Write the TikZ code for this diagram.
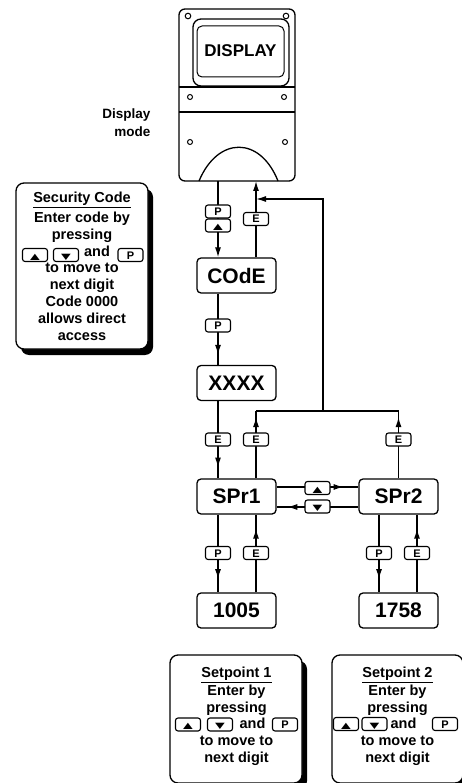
\documentclass[tikz,border=0pt]{standalone}
\usepackage{fontspec}
\setmainfont{Liberation Sans}
\newfontfamily\symfont{DejaVu Sans}
\usetikzlibrary{arrows.meta,decorations.markings,shadows}

\newcommand{\boxfont}{\fontsize{21}{24}\selectfont\bfseries}
\newcommand{\dispfont}{\fontsize{17}{20}\selectfont\bfseries}
\newcommand{\modefont}{\fontsize{13.5}{18}\selectfont\bfseries}
\newcommand{\infofont}{\fontsize{14.5}{16.8}\selectfont\bfseries}
\newcommand{\btnfont}{\fontsize{11}{12}\selectfont\bfseries}
\newcommand{\uptri}{{\symfont\scalebox{1.15}[0.75]{▲}}}
\newcommand{\dntri}{{\symfont\scalebox{1.15}[0.75]{▼}}}

\tikzset{
  flow/.style={line width=1.3pt},
  tipend/.style={-{Latex[length=10pt,width=6pt]}},
  arrowat/.style={postaction={decorate},
    decoration={markings, mark=at position #1 with {\arrow{Latex[length=10pt,width=6pt]}}}},
  screen/.style={draw, line width=1.3pt, rounded corners=4pt, fill=white,
    minimum width=79pt, minimum height=35pt, inner sep=0pt, font=\boxfont},
  btn/.style={draw, line width=1.1pt, rounded corners=2.5pt, fill=white,
    minimum width=25pt, minimum height=13pt, inner sep=0pt,
    text height=8pt, text depth=0pt, font=\btnfont},
  infobox/.style={draw, line width=1.3pt, rounded corners=8pt, fill=white,
    drop shadow={shadow xshift=5pt, shadow yshift=-6pt, fill=black, opacity=1}},
  infotext/.style={align=center, font=\infofont, inner sep=0pt}
}

\begin{document}
\begin{tikzpicture}[
  x=1pt, y=-1pt
]
\useasboundingbox (0,0) rectangle (462,783);

% display unit
\draw [line width=1.3pt, rounded corners=6pt] (179,9) rectangle (295,181);
\draw [line width=1.3pt, rounded corners=8pt] (193,19) rectangle (289,86);
\draw [line width=1pt, rounded corners=5pt] (197,26) rectangle (284,77);
\draw [line width=1.2pt] (179,87) -- (295,87);
\draw [line width=1.2pt] (179,112) -- (295,112);
\draw [line width=1.3pt] (199,181) .. controls (218,136) and (260,136) .. (278,181);
\draw [line width=1pt] (188,16) circle [radius=2.8];
\draw [line width=1pt] (286,16) circle [radius=2.8];
\draw [line width=1pt] (190,97) circle [radius=2.5];
\draw [line width=1pt] (284,97) circle [radius=2.5];
\draw [line width=1pt] (190,142) circle [radius=2.5];
\draw [line width=1pt] (285,142) circle [radius=2.5];
\node [font=\dispfont] (disptext) at (240.5,51) {DISPLAY};
\node [anchor=east, align=right, font=\modefont] (modetext) at (154,123) {Display\\mode};

% menu screens
\node [screen] (code) at (236.5,275.5) {COdE};
\node [screen] (xxxx) at (236.5,383) {XXXX};
\node [screen] (spr1) at (236.5,496.5) {SPr1};
\node [screen] (spr2) at (398.5,496.5) {SPr2};
\node [screen] (sp1val) at (236.5,610.5) {1005};
\node [screen] (sp2val) at (398.5,610.5) {1758};

\coordinate (dispL) at (218,181);
\coordinate (dispR) at (256,181);
\coordinate (tap) at (256,199);
\coordinate (bus) at (323,411);

% connectors
\draw [flow, tipend] (dispL) -- (dispL |- code.north);
\draw [flow, tipend] (code.north -| dispR) -- (dispR);
\draw [flow, tipend] (bus) |- (tap);
\draw [flow, arrowat=0.86] ([xshift=-18.5pt]code.south) -- ([xshift=-18.5pt]xxxx.north);
\draw [flow, arrowat=0.86] ([xshift=-18.5pt]xxxx.south) -- ([xshift=-18.5pt]spr1.north);
\draw [flow, arrowat=0.91] ([xshift=19.5pt]spr1.north) -- ([xshift=19.5pt]spr1.north |- bus);
\draw [flow, arrowat=0.91] (spr2.north) -- (spr2.north |- bus);
\draw [flow] ([xshift=19.5pt]spr1.north |- bus) -- (spr2.north |- bus);
\draw [flow, arrowat=0.82] ([yshift=9.5pt]spr1.east) -- ([yshift=9.5pt]spr2.west);
\draw [flow, arrowat=0.87] ([yshift=-10.5pt]spr2.west) -- ([yshift=-10.5pt]spr1.east);
\draw [flow, arrowat=0.83] ([xshift=-18.5pt]spr1.south) -- ([xshift=-18.5pt]sp1val.north);
\draw [flow, arrowat=0.82] ([xshift=19.5pt]sp1val.north) -- ([xshift=19.5pt]spr1.south);
\draw [flow, arrowat=0.83] ([xshift=-19.5pt]spr2.south) -- ([xshift=-19.5pt]sp2val.north);
\draw [flow, arrowat=0.82] ([xshift=18.5pt]sp2val.north) -- ([xshift=18.5pt]spr2.south);

% keys on the connectors
\node [btn] (kp1) at (218,211.5) {P};
\node [btn] (ku1) at (218,225.5) {\uptri};
\node [btn] (ke1) at (256,219) {E};
\node [btn] (kp2) at (218,325.5) {P};
\node [btn] (ke2) at (218,439.5) {E};
\node [btn] (ke3) at (256,439.5) {E};
\node [btn] (ke4) at (398.5,439.5) {E};
\node [btn] (kup) at (317.5,488) {\uptri};
\node [btn] (kdn) at (317.5,506.5) {\dntri};
\node [btn] (kp3) at (218,553) {P};
\node [btn] (ke5) at (256,553) {E};
\node [btn] (kp4) at (379,553) {P};
\node [btn] (ke6) at (417,553) {E};

% security code note
\node [infobox, minimum width=132pt, minimum height=166pt] (secbox) at (82,266) {};
\node [infotext] (sectext) at (82,266.3) {\underline{Security Code}\\[3pt]
  Enter code by\\ pressing\\ \makebox[63pt]{}and\makebox[33pt]{}\\ to move to\\
  next digit\\ Code 0000\\ allows direct\\ access};
\node [btn] (secup) at (35,255) {\uptri};
\node [btn] (secdn) at (66,255) {\dntri};
\node [btn] (secp) at (130.5,255) {P};

% setpoint notes
\node [infobox, minimum width=132pt, minimum height=128pt] (sp1box) at (236,719) {};
\node [infotext] (sp1text) at (236.5,716.3) {\underline{Setpoint 1}\\[1pt]
  Enter by\\ pressing\\ \makebox[64pt]{}and\makebox[32pt]{}\\ to move to\\ next digit};
\node [btn] (sp1up) at (188,724.5) {\uptri};
\node [btn] (sp1dn) at (220,724.5) {\dntri};
\node [btn] (sp1p) at (285,724.5) {P};

\node [infobox, minimum width=131pt, minimum height=128pt] (sp2box) at (397.5,719) {};
\node [infotext] (sp2text) at (397.5,716.3) {\underline{Setpoint 2}\\[1pt]
  Enter by\\ pressing\\ \makebox[54pt]{}and\makebox[42pt]{}\\ to move to\\ next digit};
\node [btn] (sp2up) at (346,724) {\uptri};
\node [btn] (sp2dn) at (374.5,724) {\dntri};
\node [btn] (sp2p) at (445,724) {P};

\end{tikzpicture}
\end{document}
